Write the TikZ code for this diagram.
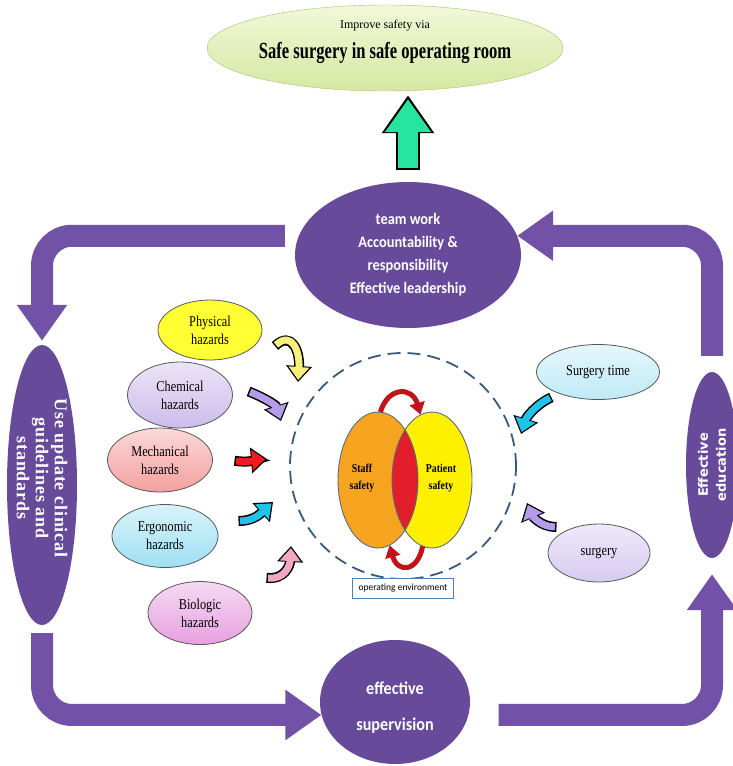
\documentclass[tikz,border=0pt]{standalone}
\usepackage{fontspec}
\setmainfont{Liberation Serif}
\newfontfamily\hzfont[FakeStretch=0.82]{Liberation Serif}
\newfontfamily\goalfont[FakeStretch=0.72]{Liberation Serif}
\newfontfamily\guidefont[LetterSpace=5]{Liberation Serif}
\newfontfamily\calfont[FakeStretch=0.9]{Carlito}
\newfontfamily\opfont{Carlito}
\newfontfamily\edufont{DejaVu Sans}
\usetikzlibrary{shapes.geometric,arrows.meta}

\definecolor{purp}{HTML}{674A9A}
\definecolor{band}{HTML}{7252A6}
\definecolor{goaltop}{HTML}{F1F8D8}
\definecolor{goalbot}{HTML}{D6E8A3}
\definecolor{goalrim}{HTML}{A7C26A}
\definecolor{upgreen}{HTML}{26E5A0}
\definecolor{physyel}{HTML}{FFFF33}
\definecolor{chemlav}{HTML}{CDBCEB}
\definecolor{mechpink}{HTML}{F3A09E}
\definecolor{ergoblue}{HTML}{9FE0F2}
\definecolor{biopink}{HTML}{E7A0E0}
\definecolor{timeblue}{HTML}{BFEAF6}
\definecolor{surglav}{HTML}{D7CAF0}
\definecolor{arryel}{HTML}{F6F17A}
\definecolor{arrlav}{HTML}{B59CEB}
\definecolor{arrred}{HTML}{EE1C1C}
\definecolor{arrcyan}{HTML}{1EC3EA}
\definecolor{arrpink}{HTML}{F2A6C4}
\definecolor{staffor}{HTML}{F7A520}
\definecolor{patyel}{HTML}{FFF000}
\definecolor{venred}{HTML}{E31E2B}
\definecolor{vennrim}{HTML}{5A6B7C}
\definecolor{darkred}{HTML}{C0141A}
\definecolor{envblue}{HTML}{3A5A7C}
\definecolor{boxblue}{HTML}{4F81BD}

\tikzset{
  ell/.style={ellipse, inner sep=0pt},
  purpell/.style={ell, fill=purp, text=white},
  hazard/.style={ell, draw=black!65, line width=0.8pt, align=center,
    font=\hzfont\fontsize{15}{18}\selectfont},
  shade/.style={top color=#1!40!white, bottom color=#1},
  flow/.style={draw=band, line width=22pt, rounded corners=30pt,
    -{Triangle[width=48pt,length=36pt]}},
  rim/.style={draw=black, line width=10pt, shorten <=-1.5pt,
    -{Triangle[width=25pt,length=16pt]}},
  body/.style={draw=#1, line width=7pt, shorten >=2pt,
    -{Triangle[width=20pt,length=13pt]}},
  vennarrow/.style={draw=darkred, line width=5pt,
    -{Triangle[width=15pt,length=12pt]}},
}

% small bent block arrow: colour, start, controls, end
\newcommand\hzarrow[5]{%
  \draw[rim] #2 .. controls #3 and #4 .. #5;
  \draw[body=#1] #2 .. controls #3 and #4 .. #5;}

\begin{document}
\begin{tikzpicture}[x=1pt,y=-1pt]
  \fill[white] (0,0) rectangle (733,766);
  \useasboundingbox (0,0) rectangle (733,766);

  % goal
  \node[ell, draw=goalrim, top color=goaltop, bottom color=goalbot,
    minimum width=356pt, minimum height=86pt] (goal) at (385,48) {};
  \node[font=\fontsize{12}{14}\selectfont] (goalsub) at (385,26) {Improve safety via};
  \node[font=\goalfont\bfseries\fontsize{23}{26}\selectfont] (goaltitle) at (385,53)
    {Safe surgery in safe operating room};

  % the four purple stages
  \node[purpell, minimum width=226pt, minimum height=146pt, align=center,
    font=\calfont\bfseries\fontsize{16}{23}\selectfont] (team) at (408,255)
    {team work\\Accountability \&\\responsibility\\Effective leadership};
  \node[purpell, minimum width=70pt, minimum height=280pt] (guide) at (42,485) {};
  \node[rotate=-90, text=white, align=center,
    font=\guidefont\bfseries\fontsize{18}{19}\selectfont] (guidetxt) at (42,478)
    {Use update clinical\\guidelines and\\standards};
  \node[purpell, minimum width=150pt, minimum height=124pt] (superv) at (395,702) {};
  \node[text=white, align=center,
    font=\calfont\bfseries\fontsize{18}{36}\selectfont] (supertxt) at (395,708)
    {effective\\supervision};
  \node[purpell, minimum width=52pt, minimum height=186pt] (educ) at (712,465) {};
  \node[rotate=90, text=white, align=center,
    font=\edufont\bfseries\fontsize{13}{18}\selectfont] (edutxt) at (educ)
    {Effective\\education};

  \draw[flow, shorten <=14pt, shorten >=4pt] (team.170) -| (guide.north);
  \draw[flow, shorten <=8pt] (guide.south) |- (superv.190);
  \draw[flow, shorten <=30pt, shorten >=16pt] (superv.350) -| (educ.south);
  \draw[flow, shorten <=16pt] (educ.north) |- (team.10);

  % up arrow
  \draw[draw=black, line width=24pt, shorten <=-2pt, shorten >=4pt,
    -{Triangle[width=50pt,length=38pt]}] ([yshift=14pt]team.north) -- (team.north |- goal.south);
  \draw[draw=upgreen, line width=20pt, shorten >=8pt,
    -{Triangle[width=44pt,length=33pt]}] ([yshift=14pt]team.north) -- (team.north |- goal.south);

  % hazards
  \node[hazard, fill=physyel, minimum width=104pt, minimum height=60pt] (phys) at (210,330) {Physical\\hazards};
  \node[hazard, shade=chemlav, minimum width=105pt, minimum height=66pt] (chem) at (180,395) {Chemical\\hazards};
  \node[hazard, shade=mechpink, minimum width=105pt, minimum height=64pt] (mech) at (160,460) {Mechanical\\hazards};
  \node[hazard, shade=ergoblue, minimum width=106pt, minimum height=63pt] (ergo) at (165,536) {Ergonomic\\hazards};
  \node[hazard, shade=biopink, minimum width=104pt, minimum height=63pt] (bio) at (200,613) {Biologic\\hazards};
  \node[hazard, shade=timeblue, minimum width=123pt, minimum height=55pt] (stime) at (598,372) {Surgery time};
  \node[hazard, shade=surglav, minimum width=102pt, minimum height=58pt] (surg) at (599,553) {surgery};

  \hzarrow{arryel}{(276,345)}{(292,330)}{(300,352)}{(298,382)}
  \hzarrow{arrlav}{(250,392)}{(265,398)}{(276,405)}{(281,421)}
  \hzarrow{arrred}{(236,461)}{(248,463)}{(256,460)}{(267,459)}
  \hzarrow{arrcyan}{(240,521)}{(255,521)}{(262,512)}{(273,502)}
  \hzarrow{arrpink}{(268,578)}{(285,580)}{(290,565)}{(291,546)}
  \hzarrow{arrcyan}{(550,398)}{(535,405)}{(526,418)}{(521,434)}
  \hzarrow{arrlav}{(555,527)}{(540,527)}{(532,515)}{(527,503)}

  % operating room
  \node[circle, draw=envblue, line width=1.8pt, dash pattern=on 13pt off 7pt,
    minimum size=226pt] (oproom) at (403,466) {};
  \node[ell, fill=staffor, minimum width=80pt, minimum height=136pt] (staff) at (378,480) {};
  \node[ell, fill=patyel, minimum width=80pt, minimum height=136pt] (patient) at (432,480) {};
  \begin{scope}
    \clip (staff.center) ellipse [x radius=40pt, y radius=68pt];
    \fill[venred] (patient.center) ellipse [x radius=40pt, y radius=68pt];
  \end{scope}
  \draw[vennrim, line width=0.9pt] (staff.center) ellipse [x radius=40pt, y radius=68pt]
    (patient.center) ellipse [x radius=40pt, y radius=68pt];
  \node[align=center, font=\hzfont\bfseries\fontsize{12}{17}\selectfont] (stafftxt) at (362,478) {Staff\\safety};
  \node[align=center, font=\hzfont\bfseries\fontsize{12}{17}\selectfont] (pattxt) at (441,478) {Patient\\safety};
  \draw[vennarrow] (staff.88) .. controls +(8,-26) and +(-8,-28) .. (patient.100);
  \draw[vennarrow] (patient.262) .. controls +(-5,26) and +(8,28) .. (staff.280);
  \node[draw=boxblue, fill=white, line width=0.8pt, minimum width=101pt, minimum height=20pt,
    inner sep=2pt, font=\opfont\fontsize{9.5}{11}\selectfont] (openv) at (403,588) {operating environment};
\end{tikzpicture}
\end{document}
